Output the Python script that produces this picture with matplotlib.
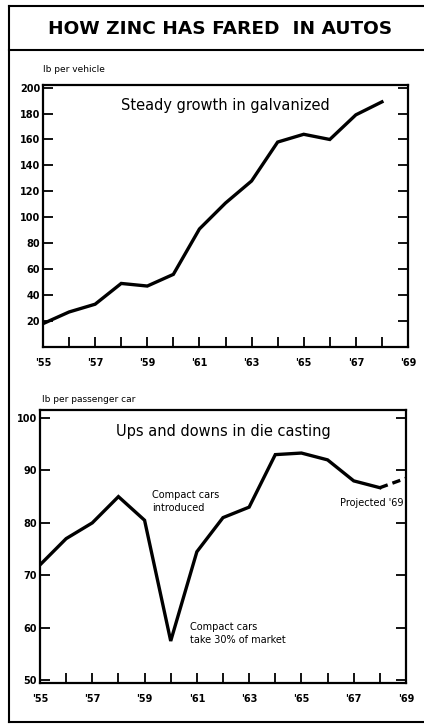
import numpy as np
import matplotlib.pyplot as plt
from matplotlib.lines import Line2D

# galvanized zinc, lb per vehicle
galv_years = [1955, 1956, 1957, 1958, 1959, 1960, 1961, 1962, 1963, 1964, 1965, 1966, 1967, 1968]
galv_lb = [18, 27, 33, 49, 47, 56, 91, 111, 128, 158, 164, 160, 179, 189]

# die casting, lb per passenger car
die_years = [1955, 1956, 1957, 1958, 1959, 1960, 1961, 1962, 1963, 1964, 1965, 1966, 1967, 1968]
die_lb = [72, 77, 80, 85, 80.5, 57.5, 74.5, 81, 83, 93, 93.3, 92, 88, 86.7]
proj_years = [1968, 1969]
proj_lb = [86.7, 88.5]

xtick_years = [1955, 1957, 1959, 1961, 1963, 1965, 1967, 1969]
xtick_labels = ["'55", "'57", "'59", "'61", "'63", "'65", "'67", "'69"]

W, H = 424, 727
fig = plt.figure(figsize=(W / 100, H / 100), dpi=100)
plt.rcParams['font.family'] = ['DejaVu Sans']


def px(x0, y0, x1, y1):
    # pixel box -> figure fraction [left, bottom, width, height]
    return [x0 / W, 1 - y1 / H, (x1 - x0) / W, (y1 - y0) / H]


def style_axes(ax):
    for s in ax.spines.values():
        s.set_linewidth(1.6)
    ax.set_xlim(1955, 1969)
    ax.set_xticks(range(1955, 1970))
    ax.set_xticklabels([])
    ax.tick_params(axis='x', direction='in', length=7, width=1.3, top=False, bottom=True)
    ax.tick_params(axis='y', direction='in', length=7, width=1.3, left=True,
                   right=True, labelsize=7, pad=2)
    for lab in ax.get_yticklabels():
        lab.set_fontweight('bold')
    # year labels every two years
    for yr, lab in zip(xtick_years, xtick_labels):
        ax.annotate(lab, (yr, 0), xycoords=('data', 'axes fraction'),
                    xytext=(0, -8), textcoords='offset points', ha='center',
                    va='top', fontsize=7, fontweight='bold')


# outer frame and title box
frame = dict(color='black', lw=1.5)
fig.add_artist(Line2D([9 / W, 9 / W], [1 - 6 / H, 1 - 722 / H], **frame))
fig.add_artist(Line2D([9 / W, 1], [1 - 6 / H, 1 - 6 / H], **frame))
fig.add_artist(Line2D([9 / W, 1], [1 - 50 / H, 1 - 50 / H], **frame))
fig.add_artist(Line2D([9 / W, 1], [1 - 722 / H, 1 - 722 / H], **frame))
fig.text(0.52, 1 - 29 / H, 'HOW ZINC HAS FARED  IN AUTOS', ha='center', va='center',
         fontsize=13.3, fontweight='bold')

# top chart
ax1 = fig.add_axes(px(43, 85, 408, 347))
ax1.plot(galv_years, galv_lb, color='black', lw=2.4, solid_joinstyle='miter')
ax1.set_ylim(0, 202)
ax1.set_yticks(range(20, 201, 20))
style_axes(ax1)
ax1.text(0.5, 0.95, 'Steady growth in galvanized', transform=ax1.transAxes,
         ha='center', va='top', fontsize=10.5)
fig.text(43 / W, 1 - 70 / H, 'lb per vehicle', fontsize=6.5, va='center')

# bottom chart
ax2 = fig.add_axes(px(40, 410, 406, 683))
ax2.plot(die_years, die_lb, color='black', lw=2.4, solid_joinstyle='miter')
ax2.plot(proj_years, proj_lb, color='black', lw=2.4, ls=(0, (2.5, 1.5)))
ax2.set_ylim(49.5, 101.5)
ax2.set_yticks(range(50, 101, 10))
style_axes(ax2)
ax2.text(0.5, 0.95, 'Ups and downs in die casting', transform=ax2.transAxes,
         ha='center', va='top', fontsize=10.5)
ax2.text(1959.3, 86.3, 'Compact cars\nintroduced', fontsize=7, va='top', ha='left',
         linespacing=1.4)
ax2.text(1960.75, 61.2, 'Compact cars\ntake 30% of market', fontsize=7, va='top',
         ha='left', linespacing=1.4)
ax2.text(1968.9, 83.8, "Projected '69", fontsize=7, va='center', ha='right')
fig.text(42 / W, 1 - 400 / H, 'lb per passenger car', fontsize=6.5, va='center')

fig.savefig('out.png', dpi=100)
